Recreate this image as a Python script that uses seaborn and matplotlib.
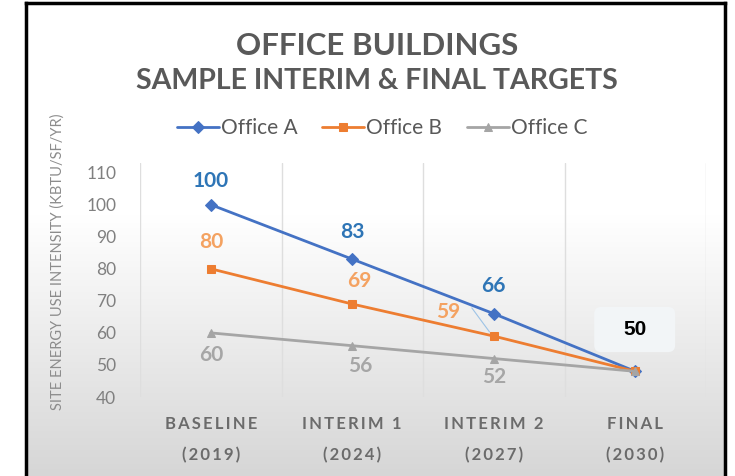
import numpy as np
import pandas as pd
import matplotlib
matplotlib.use('Agg')
import matplotlib.pyplot as plt
from matplotlib.patches import FancyBboxPatch
import seaborn as sns

### data ###
stages = ['BASELINE\n(2019)', 'INTERIM 1\n(2024)', 'INTERIM 2\n(2027)', 'FINAL\n(2030)']
office_a = [100, 83, 66, 48]
office_b = [80, 69, 59, 48]
office_c = [60, 56, 52, 48]
final_label = '50'

series = ['Office A', 'Office B', 'Office C']
colors = {'Office A': '#4472C4', 'Office B': '#ED7D31', 'Office C': '#A5A5A5'}
label_colors = {'Office A': '#2E75B6', 'Office B': '#F4A261', 'Office C': '#A6A6A6'}
markers = {'Office A': 'D', 'Office B': 's', 'Office C': '^'}

df = pd.DataFrame({'stage': stages * 3,
                   'pos': list(range(4)) * 3,
                   'value': office_a + office_b + office_c,
                   'office': ['Office A'] * 4 + ['Office B'] * 4 + ['Office C'] * 4})

sns.set_style('white')
plt.rcParams['font.family'] = ['Lato', 'DejaVu Sans']

fig = plt.figure(figsize=(7.35, 4.76), dpi=100)
fig.patch.set_facecolor('white')

# background panel with gradient + black frame
bg = fig.add_axes([26/735, 0, (725-26)/735, 473/476], zorder=0)
t = np.linspace(0, 1, 200)
shade = np.where(t < 0.45, 1.0, 1.0 - (t - 0.45) / 0.55 * 0.16)
img = np.repeat(shade[:, None, None], 3, axis=2) * np.ones((200, 2, 3))
bg.imshow(img, aspect='auto', extent=[0, 1, 0, 1], origin='upper')
bg.set_xticks([]); bg.set_yticks([])
for s in ['left', 'top', 'right']:
    bg.spines[s].set_color('black'); bg.spines[s].set_linewidth(2.5)
bg.spines['bottom'].set_visible(False)

ax = fig.add_axes([140/735, 1-397/476, (706-140)/735, (397-163)/476], zorder=1)
ax.patch.set_alpha(0)

for name in series:
    d = df[df['office'] == name]
    sns.lineplot(data=d, x='pos', y='value', ax=ax, color=colors[name], marker=markers[name],
                 markersize=6, markeredgecolor=colors[name], linewidth=2, label=name)

ax.set_xlim(-0.5, 3.5)
ax.set_ylim(40, 113)
ax.set_yticks(range(40, 111, 10))
ax.set_xticks(range(4))
ax.set_xticklabels(['\u2009'.join(list(s.split('\n')[0])) + '\n' + '\u2009'.join(list(s.split('\n')[1])) for s in stages],
                   fontsize=12, fontweight='bold', color='#6b6b6b', linespacing=2.1)
ax.tick_params(axis='y', labelsize=12.5, labelcolor='#808080', length=0, pad=17)
ax.tick_params(axis='x', length=0, pad=14)
ax.set_xlabel('')
ax.set_ylabel('')
fig.text(58/735, 1-262/476, 'SITE ENERGY USE INTENSITY (KBTU/SF/YR)', rotation=90, ha='center', va='center',
         fontsize=10.5, color='#8c8c8c')
for x in [-0.5, 0.5, 1.5, 2.5, 3.5]:
    ax.axvline(x, color='#dedede', lw=1, zorder=0)
for s in ax.spines.values():
    s.set_visible(False)
ax.axhline(40, color='#e3e3e3', lw=1, zorder=0)

# data labels (offsets in pixels)
offs = {'Office A': [(0, 24), (0, 27), (0, 28)],
        'Office B': [(0, 27), (7, 23), (-46, 24)],
        'Office C': [(0, -22), (8, -20), (0, -18)]}
vals = {'Office A': office_a, 'Office B': office_b, 'Office C': office_c}
for name in series:
    for i in range(3):
        ax.annotate(str(vals[name][i]), (i, vals[name][i]), xytext=offs[name][i],
                    textcoords='offset pixels', ha='center', va='center', fontsize=15,
                    fontweight='bold', color=label_colors[name], zorder=5)
ax.plot([1.845, 1.97], [67.8, 60.3], color='#9dc3e6', lw=0.8, zorder=2)

# callout box for the final target
ax.add_patch(FancyBboxPatch((2.71, 54.0), 0.572, 14.1, boxstyle='round,pad=0,rounding_size=0.05',
                            mutation_aspect=44, fc='#f2f5f7', ec='none', zorder=3))
ax.text(2.996, 61.0, final_label, ha='center', va='center', fontsize=15, fontweight='bold',
        color='black', family='Liberation Sans', zorder=4)

leg = ax.legend(loc='center', bbox_to_anchor=(382/735, 1-128/476), bbox_transform=fig.transFigure,
                ncol=3, frameon=False, fontsize=15, handlelength=2.0, columnspacing=1.2, handletextpad=0.1)
for txt in leg.get_texts():
    txt.set_color('#595959')

fig.text(377/735, 1-46/476, 'OFFICE BUILDINGS', ha='center', va='center', fontsize=22.5,
         fontweight='bold', color='#595959')
fig.text(377/735, 1-81/476, 'SAMPLE INTERIM & FINAL TARGETS', ha='center', va='center', fontsize=20.5,
         fontweight='bold', color='#595959')

fig.savefig('out.png', dpi=100)
